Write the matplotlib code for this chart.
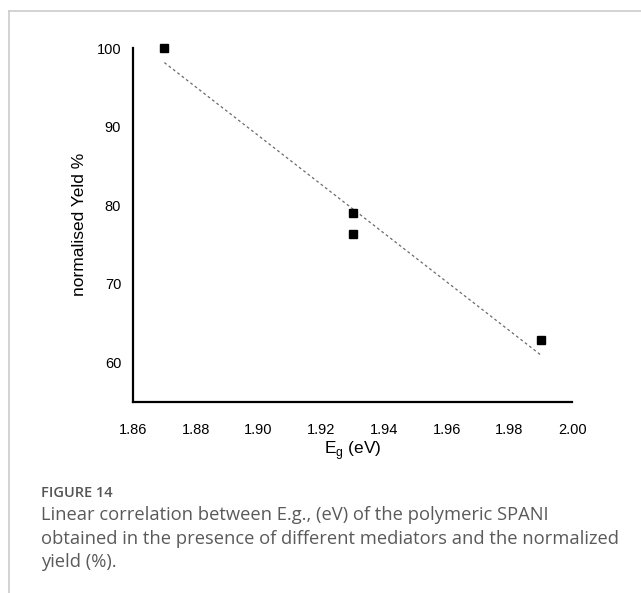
import matplotlib.pyplot as plt
import numpy as np
from matplotlib.lines import Line2D

# data
band_gap = [1.87, 1.93, 1.93, 1.99]
norm_yield = [100, 79, 76.4, 62.8]
xticks = [1.86, 1.88, 1.90, 1.92, 1.94, 1.96, 1.98, 2.00]
yticks = [60, 70, 80, 90, 100]

caption_head = 'FIGURE 14'
caption_lines = ['Linear correlation between E.g., (eV) of the polymeric SPANI',
                 'obtained in the presence of different mediators and the normalized',
                 'yield (%).']

plt.rcParams['font.family'] = ['Liberation Sans', 'DejaVu Sans']

fig = plt.figure(figsize=(6.41, 5.93), dpi=100)
ax = fig.add_axes([0.2075, 0.3226, 0.685, 0.5964])

ax.plot(band_gap, norm_yield, 's', color='black', markersize=6, zorder=3, clip_on=False)

# linear trendline
k, b = np.polyfit(band_gap, norm_yield, 1)
xs = np.array([min(band_gap), max(band_gap)])
ax.plot(xs, k * xs + b, color='#6a6a6a', lw=0.9, ls=(0, (2.2, 2.2)))

ax.set_xlim(1.86, 2.00)
ax.set_ylim(55, 100)
ax.set_xticks(xticks)
ax.set_xticklabels(['%.2f' % t for t in xticks])
ax.set_yticks(yticks)
ax.tick_params(axis='both', length=0, labelsize=10.5)
ax.tick_params(axis='x', pad=15.5)
ax.tick_params(axis='y', pad=8.5)
for s in ['top', 'right']:
    ax.spines[s].set_visible(False)
for s in ['left', 'bottom']:
    ax.spines[s].set_linewidth(1.6)
    ax.spines[s].set_color('black')

ax.set_xlabel(r'E$_\mathregular{g}$ (eV)', fontsize=12.5, labelpad=1)
ax.set_ylabel('normalised Yeld %', fontsize=12.5, labelpad=7)

# frame lines of the figure panel
fig.add_artist(Line2D([9/641, 1], [1 - 11/593, 1 - 11/593], color='#cccccc', lw=1.2))
fig.add_artist(Line2D([9/641, 9/641], [0, 1 - 11/593], color='#cccccc', lw=1.2))

fig.text(41/641, 1 - 493/593, caption_head, fontsize=10.5, fontweight='semibold',
         color='#555555', family=['Open Sans', 'DejaVu Sans'], va='center')
for i, line in enumerate(caption_lines):
    fig.text(41/641, 1 - (515 + 23.5 * i)/593, line, fontsize=13.2, color='#5a5a5a',
             family=['Open Sans', 'DejaVu Sans'], va='center')

fig.savefig('out.png', dpi=100)
